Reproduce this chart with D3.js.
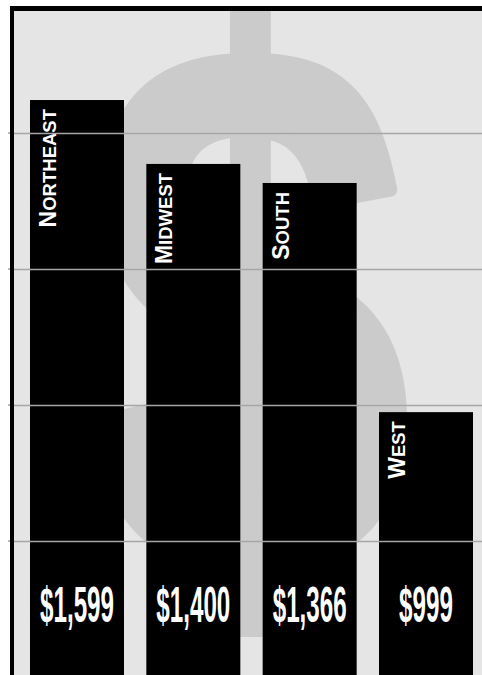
<!DOCTYPE html>
<html>
<head>
<meta charset="utf-8">
<script src="https://cdn.jsdelivr.net/npm/d3@7"></script>
<style>
  html, body { margin: 0; padding: 0; background: #ffffff; }
  svg { display: block; }
</style>
</head>
<body>
<svg id="chart" width="482" height="675"></svg>
<script>
// ---- data ----
const categories = ["Northeast", "Midwest", "South", "West"];
const valueLabels = [1599, 1400, 1366, 999];      // printed amounts
const plottedLevels = [1697, 1509, 1453, 779];     // bar heights as drawn
const gridTicks = [400, 800, 1200, 1600];

const W = 482, H = 675;
const frame = { left: 14, top: 11 };

const svg = d3.select("#chart");

svg.append("defs").append("clipPath").attr("id", "plotClip")
  .append("rect").attr("x", frame.left).attr("y", frame.top)
  .attr("width", W - frame.left).attr("height", H - frame.top);

const x = d3.scaleBand()
  .domain(categories)
  .range([14, 489])
  .paddingInner(0.192)
  .paddingOuter(0.1375);

const y = d3.scaleLinear()
  .domain([0, 1700])
  .range([677, 99]);

// background
svg.append("rect")
  .attr("x", frame.left).attr("y", frame.top)
  .attr("width", W - frame.left).attr("height", H - frame.top)
  .attr("fill", "#e5e5e5");

const plot = svg.append("g").attr("clip-path", "url(#plotClip)");

// big dollar sign (background artwork)
plot.append("text")
  .attr("transform", "translate(249,574) scale(1,1.31)")
  .attr("text-anchor", "middle")
  .attr("font-family", "Liberation Sans, Arial, sans-serif")
  .attr("font-weight", "bold")
  .attr("font-size", 580)
  .attr("fill", "#cbcbcb")
  .attr("stroke", "#cbcbcb")
  .attr("stroke-width", 10)
  .attr("stroke-linejoin", "round")
  .text("$");

// gridlines
const yAxis = d3.axisLeft(y).tickValues(gridTicks).tickSize(-(W - frame.left)).tickFormat("");
const ga = svg.append("g")
  .attr("transform", `translate(${frame.left},0)`)
  .call(yAxis);
ga.select(".domain").remove();
ga.selectAll(".tick line").attr("stroke", "#a6a6a6").attr("stroke-width", 1.5);

// little outside tick marks
svg.append("g").selectAll("line").data(gridTicks).join("line")
  .attr("x1", 8).attr("x2", 11)
  .attr("y1", d => y(d)).attr("y2", d => y(d))
  .attr("stroke", "#777").attr("stroke-width", 1);

// bars
const data = categories.map((c, i) => ({ c, v: valueLabels[i], h: plottedLevels[i] }));
plot.selectAll("rect.bar").data(data).join("rect")
  .attr("class", "bar")
  .attr("x", d => x(d.c))
  .attr("width", x.bandwidth())
  .attr("y", d => y(d.h))
  .attr("height", d => y(0) - y(d.h))
  .attr("fill", "#000");

// category labels (small caps, vertical)
const lbl = plot.selectAll("text.cat").data(data).join("text")
  .attr("class", "cat")
  .attr("transform", d => `translate(${x(d.c) + 26},${y(d.h) + 9}) rotate(-90)`)
  .attr("text-anchor", "end")
  .attr("font-family", "Liberation Sans, Arial, Helvetica, sans-serif")
  .attr("font-weight", "bold")
  .attr("fill", "#fff");
lbl.append("tspan").attr("font-size", 23).text(d => d.c[0].toUpperCase());
lbl.append("tspan").attr("font-size", 18.5).text(d => d.c.slice(1).toUpperCase());

// value labels (condensed)
const fmt = d3.format("$,");
const vals = plot.selectAll("text.val").data(data).join("text")
  .attr("class", "val")
  .attr("text-anchor", "middle")
  .attr("font-family", "Liberation Sans Narrow, Liberation Sans, Arial, sans-serif")
  .attr("font-weight", "bold")
  .attr("font-size", 30)
  .attr("fill", "#fff")
  .text(d => fmt(d.v));
const ref = vals.nodes()[0].getComputedTextLength();
const sx = 74 / ref;
vals.attr("transform", d => `translate(${x(d.c) + x.bandwidth() / 2},622) scale(${sx},${50 / 30})`);

// frame border (left and top)
svg.append("line").attr("x1", 12).attr("x2", 12).attr("y1", 6).attr("y2", H)
  .attr("stroke", "#000").attr("stroke-width", 4);
svg.append("line").attr("x1", 10).attr("x2", W).attr("y1", 8.5).attr("y2", 8.5)
  .attr("stroke", "#000").attr("stroke-width", 5);
</script>
</body>
</html>
